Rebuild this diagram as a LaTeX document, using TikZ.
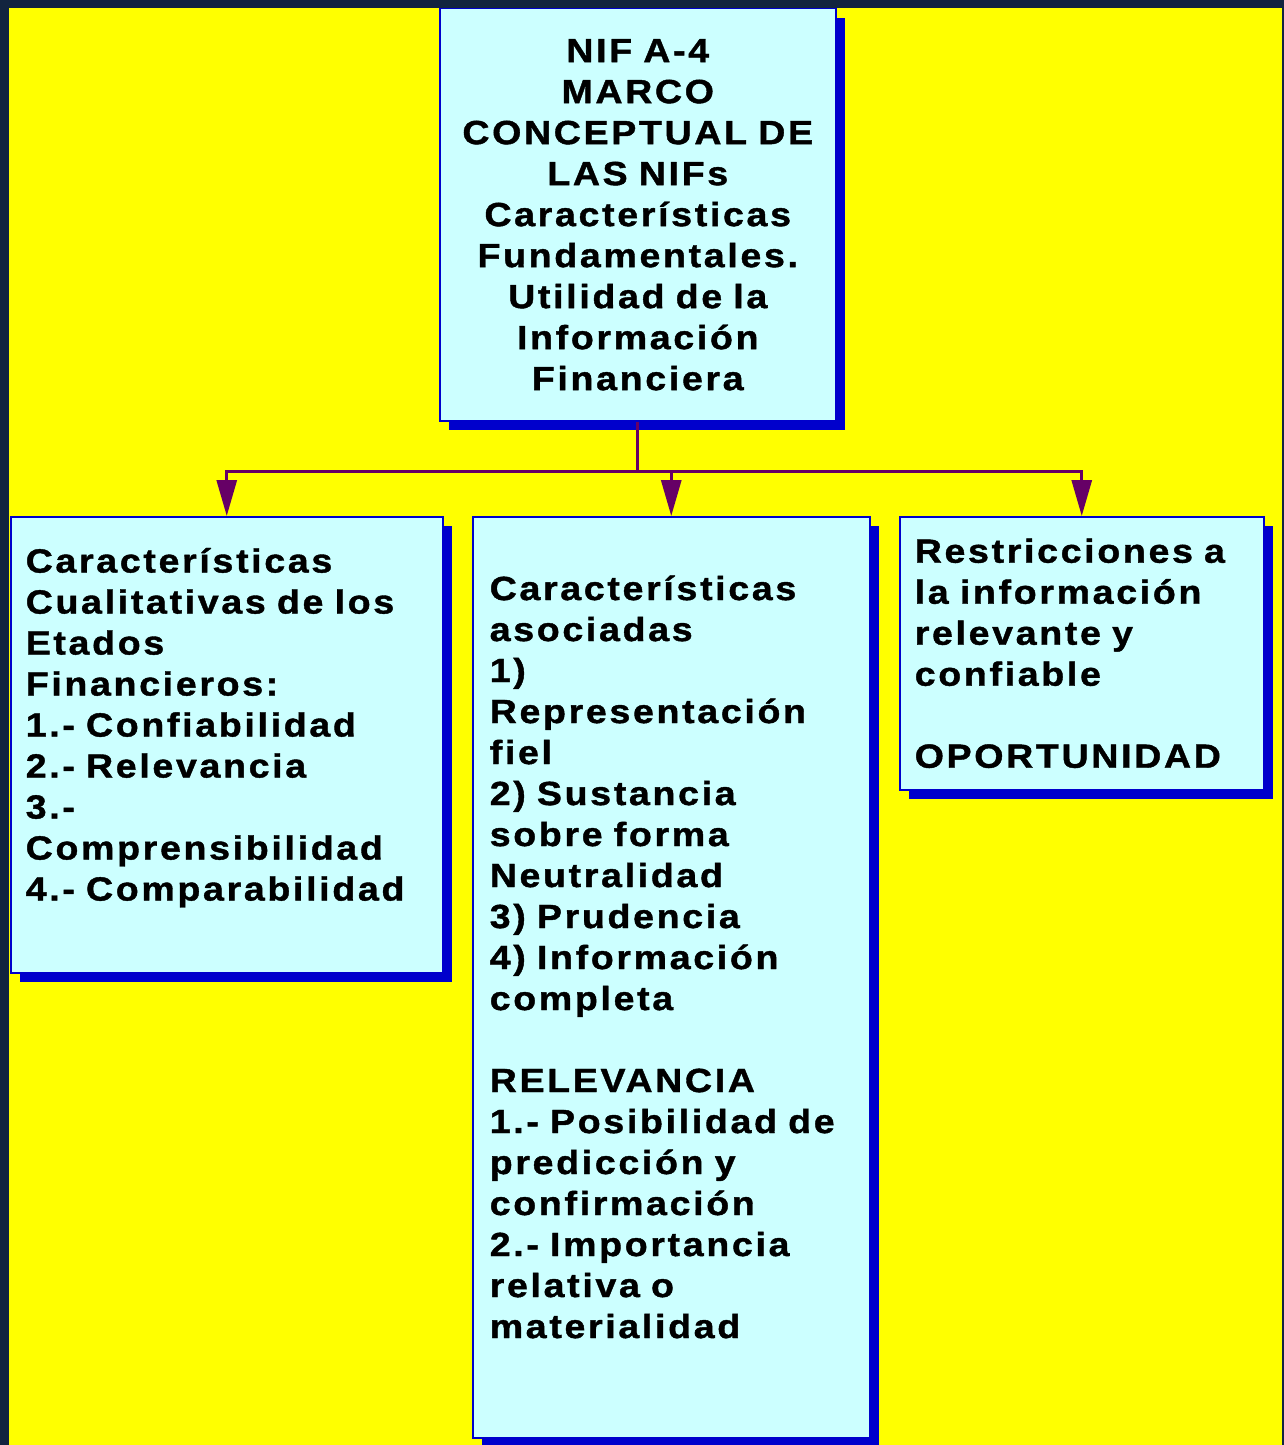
\documentclass[tikz,border=0pt]{standalone}
\usepackage{fontspec}
\newfontfamily\niffont[LetterSpace=8,FakeStretch=1.12,FakeBold=1.2]{Liberation Sans}
\usetikzlibrary{arrows.meta,shadows}

\definecolor{framedark}{HTML}{12243F}
\definecolor{pageyellow}{HTML}{FFFF00}
\definecolor{boxcyan}{HTML}{CCFFFF}
\definecolor{boxblue}{HTML}{0000CC}
\definecolor{linkpurple}{HTML}{660066}

\tikzset{
  nifbox/.style={draw=boxblue, line width=1.5pt, fill=boxcyan,
    drop shadow={shadow xshift=9pt, shadow yshift=-9pt, fill=boxblue, opacity=1},
    font=\niffont\bfseries\fontsize{33.5}{41}\selectfont,
    inner ysep=0pt, anchor=north west},
  link/.style={draw=linkpurple, line width=3pt},
  linkarrow/.style={link, -{Triangle[length=36pt,width=20pt]}}
}

\begin{document}
\begin{tikzpicture}[x=1pt, y=-1pt]
  \def\picwidth{1284}
  \def\picheight{1445}
  \def\hubdrop{50}

  \useasboundingbox (0,0) rectangle (\picwidth,\picheight);
  \fill[framedark] (0,0) rectangle (\picwidth,\picheight);
  \fill[pageyellow] (9,8) rectangle (\picwidth-2,\picheight);

  \node[nifbox, align=center, inner xsep=10pt, text width=376pt,
        minimum width=396pt, minimum height=412pt] (marco) at (439,8)
    {NIF A-4\\ MARCO\\ CONCEPTUAL DE\\ LAS NIFs\\ Características\\
     Fundamentales.\\ Utilidad de la\\ Información\\ Financiera};

  \node[nifbox, align=left, inner xsep=15pt, text width=402pt,
        minimum width=432pt, minimum height=456pt] (cualit) at (10,516)
    {Características\\ Cualitativas de los\\ Etados\\ Financieros:\\
     1.- Confiabilidad\\ 2.- Relevancia\\ 3.-\\ Comprensibilidad\\
     4.- Comparabilidad\\ \mbox{}};

  \node[nifbox, align=left, inner xsep=17pt, text width=363pt,
        minimum width=397pt, minimum height=921pt] (asoc) at (472,516)
    {Características\\ asociadas\\ 1)\\ Representación\\ fiel\\
     2) Sustancia\\ sobre forma\\ Neutralidad\\ 3) Prudencia\\
     4) Información\\ completa\\ \mbox{}\\ RELEVANCIA\\
     1.- Posibilidad de\\ predicción y\\ confirmación\\
     2.- Importancia\\ relativa o\\ materialidad\\ \mbox{}};

  \node[nifbox, align=left, inner xsep=15pt, text width=334pt,
        minimum width=364pt, minimum height=273pt] (restr) at (899,516)
    {Restricciones a\\ la información\\ relevante y\\ confiable\\
     \mbox{}\\ OPORTUNIDAD};

  \path (marco.south) ++(0,\hubdrop) coordinate (hub);
  \draw[link] (marco.south) -- (hub);
  \foreach \target in {cualit,asoc,restr}
  {
    \draw[linkarrow] (hub) -| (\target.north);
  }
\end{tikzpicture}
\end{document}
